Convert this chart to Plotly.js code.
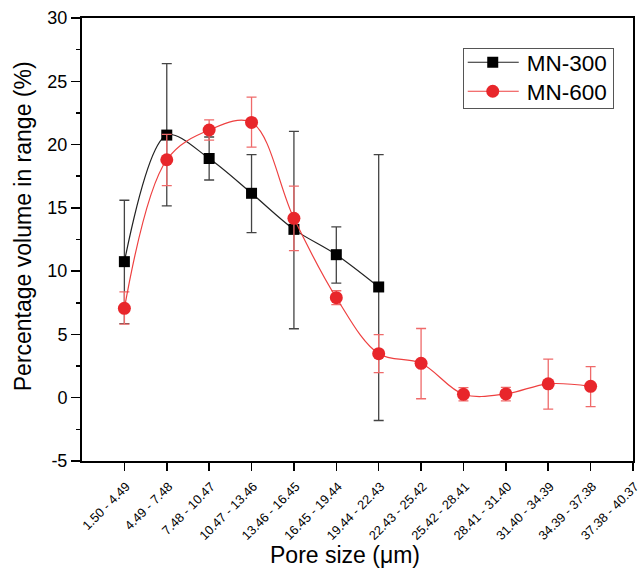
<!DOCTYPE html>
<html>
<head>
<meta charset="utf-8">
<script src="https://cdn.plot.ly/plotly-3.0.1.min.js"></script>
<style>html,body{margin:0;padding:0;background:#fff}#chart{width:641px;height:571px}</style>
</head>
<body>
<div id="chart"></div>
<script>
const poreRanges = ["1.50 - 4.49","4.49 - 7.48","7.48 - 10.47","10.47 - 13.46","13.46 - 16.45","16.45 - 19.44","19.44 - 22.43","22.43 - 25.42","25.42 - 28.41","28.41 - 31.40","31.40 - 34.39","34.39 - 37.38","37.38 - 40.37"];

const yTickValues = [-5, 0, 5, 10, 15, 20, 25, 30];
const yTickLabels = ["-5", "0", "5", "10", "15", "20", "25", "30"];

const xTitle = "Pore size (μm)";
const yTitle = "Percentage volume in range (%)";

const mn300Values = [10.75, 20.75, 18.9, 16.15, 13.3, 11.3, 8.75];
const mn300ErrUp   = [4.85, 5.65, 1.7, 3.05, 7.75, 2.2, 10.45];
const mn300ErrDown = [4.9, 5.6, 1.7, 3.1, 7.85, 2.25, 10.55];

const mn600Values = [7.06, 18.8, 21.15, 21.75, 14.17, 7.9, 3.48, 2.72, 0.27, 0.3, 1.1, 0.9];
const mn600ErrUp   = [1.3, 2.0, 0.8, 2.0, 2.55, 0.55, 1.5, 2.75, 0.52, 0.52, 1.95, 1.55];
const mn600ErrDown = [1.25, 2.05, 0.8, 1.95, 2.55, 0.55, 1.5, 2.8, 0.52, 0.55, 2.0, 1.6];

const traces = [
  {
    x: poreRanges.slice(0, mn300Values.length), y: mn300Values, name: "MN-300",
    type: "scatter", mode: "lines+markers",
    line: {color: "#222222", width: 1.2, shape: "spline", smoothing: 0.9},
    marker: {symbol: "square", size: 11, color: "#000000"},
    error_y: {type: "data", symmetric: false, array: mn300ErrUp, arrayminus: mn300ErrDown,
              color: "#444444", thickness: 1.3, width: 5}
  },
  {
    x: poreRanges.slice(0, mn600Values.length), y: mn600Values, name: "MN-600",
    type: "scatter", mode: "lines+markers",
    line: {color: "#ee4040", width: 1.2, shape: "spline", smoothing: 1},
    marker: {symbol: "circle", size: 13, color: "#e8262b"},
    error_y: {type: "data", symmetric: false, array: mn600ErrUp, arrayminus: mn600ErrDown,
              color: "#ef6a6a", thickness: 1.3, width: 5}
  }
];

const layout = {
  width: 641, height: 571,
  margin: {l: 82, r: 8, t: 18, b: 110},
  paper_bgcolor: "#ffffff", plot_bgcolor: "#ffffff",
  font: {family: "'Liberation Sans', Arial, sans-serif", color: "#000"},
  showlegend: true,
  legend: {x: 0.691, y: 0.932, xanchor: "left", yanchor: "top",
           bgcolor: "#ffffff", bordercolor: "#555555", borderwidth: 1,
           font: {size: 22.5, color: "#000"}, tracegroupgap: 0, itemwidth: 53},
  xaxis: {
    type: "category", categoryorder: "array", categoryarray: poreRanges,
    range: [-1, 12], showgrid: false, zeroline: false,
    showline: true, linecolor: "#000", linewidth: 2, mirror: true,
    ticks: "outside", ticklen: 8, tickwidth: 1.5, tickcolor: "#000",
    tickangle: -45, tickfont: {size: 12.8},
    ticklabelstandoff: 3, ticklabelshift: 2
  },
  yaxis: {
    range: [-5, 30], tickmode: "array", tickvals: yTickValues, ticktext: yTickLabels,
    showgrid: false, zeroline: false,
    showline: true, linecolor: "#000", linewidth: 2, mirror: true,
    ticks: "outside", ticklen: 9, tickwidth: 1.5, tickcolor: "#000",
    tickfont: {size: 18},
    minor: {dtick: 2.5, ticks: "outside", ticklen: 4, tickwidth: 1.5, tickcolor: "#000", showgrid: false}
  },
  annotations: [
    {text: xTitle, xref: "paper", yref: "paper", x: 0.477, y: -0.246,
     xanchor: "center", yanchor: "bottom", showarrow: false, font: {size: 23}},
    {text: yTitle, xref: "paper", yref: "paper", x: -0.107, y: 0.530, textangle: -90,
     xanchor: "center", yanchor: "middle", showarrow: false, font: {size: 23}}
  ]
};

Plotly.newPlot("chart", traces, layout, {displayModeBar: false, staticPlot: true}).then(function (gd) {
  gd.querySelectorAll(".legend .legendlines path").forEach(function (p) { p.setAttribute("d", "M4,0h51"); });
  gd.querySelectorAll(".legend .legendpoints path").forEach(function (p) { p.setAttribute("transform", "translate(29,0)"); });
  // tighten legend rows to match the reference box
  const items = gd.querySelectorAll(".legend .traces");
  const parse = function (el) {
    const m = /translate\(\s*([-\d.]+)[ ,]+([-\d.]+)/.exec(el.getAttribute("transform") || "");
    return m ? [parseFloat(m[1]), parseFloat(m[2])] : [0, 0];
  };
  if (items.length) {
    const first = parse(items[0]);
    const y0 = first[1] - 8;
    items.forEach(function (el, i) {
      const t = parse(el);
      el.setAttribute("transform", "translate(" + t[0] + "," + (y0 + i * 29) + ")");
    });
    const bg = gd.querySelector(".legend rect.bg");
    if (bg) bg.setAttribute("height", "60");
  }
});
</script>
</body>
</html>
